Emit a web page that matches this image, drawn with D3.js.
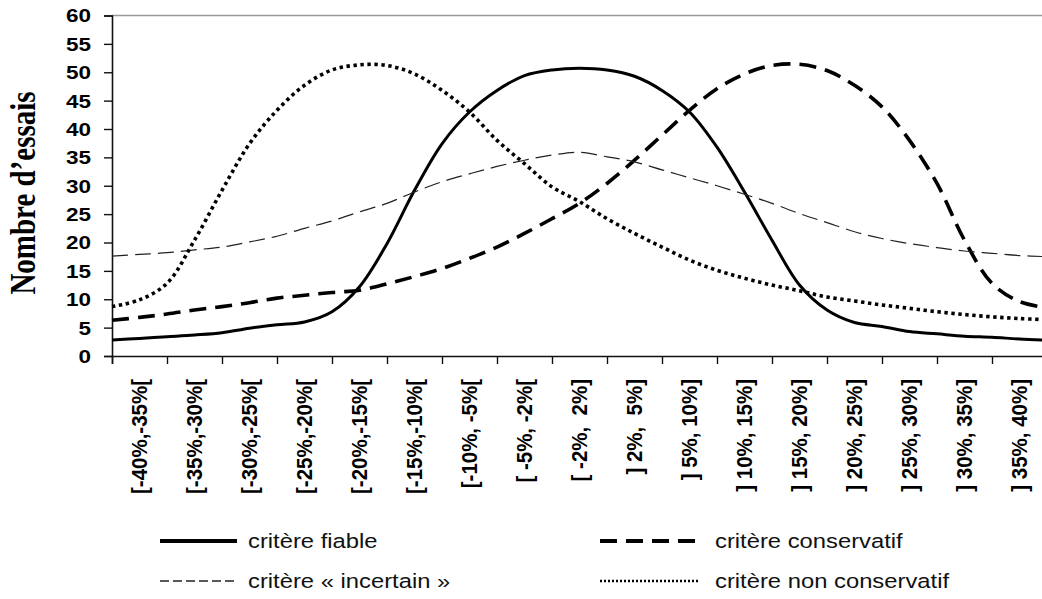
<!DOCTYPE html>
<html>
<head>
<meta charset="utf-8">
<script src="https://cdn.jsdelivr.net/npm/d3@7"></script>
<style>
  html, body { margin: 0; padding: 0; background: #fff; }
  svg { display: block; }
</style>
</head>
<body>
<svg id="chart" width="1042" height="599"></svg>
<script>
// ---- Data ----
const categories = [
  "[-40%,-35%[", "[-35%,-30%[", "[-30%,-25%[", "[-25%,-20%[", "[-20%,-15%[",
  "[-15%,-10%[", "[-10%, -5%[", "[ -5%, -2%[", "[ -2%,  2%]", "] 2%,  5%]",
  "] 5%, 10%]", "] 10%, 15%]", "] 15%, 20%]", "] 20%, 25%]", "] 25%, 30%]",
  "] 30%, 35%]", "] 35%, 40%]"
];
const yTicks = [0, 5, 10, 15, 20, 25, 30, 35, 40, 45, 50, 55, 60];
// values read every half category, from the left axis to the right edge
const fiable = [2.8, 3.1, 3.4, 3.7, 4.1, 4.9, 5.5, 6.0, 7.8, 12.2, 19.8, 29.2, 37.4, 43.0, 46.8, 49.4, 50.4,
  50.7, 50.4, 49.3, 46.8, 43.0, 36.8, 28.9, 20.4, 12.5, 8.1, 5.9, 5.2, 4.3, 3.9, 3.5, 3.3, 3.0, 2.8];
const conservatif = [6.3, 6.8, 7.4, 8.1, 8.7, 9.4, 10.2, 10.7, 11.2, 11.6, 12.7, 14.0, 15.4, 17.2, 19.2, 21.6, 24.2,
  26.9, 30.4, 34.5, 38.9, 43.3, 47.1, 49.7, 51.2, 51.4, 50.3, 47.7, 43.9, 38.0, 30.4, 20.4, 12.8, 9.6, 8.5];
const incertain = [17.6, 17.9, 18.2, 18.7, 19.2, 20.1, 21.1, 22.5, 23.8, 25.4, 26.9, 28.9, 30.7, 32.1, 33.4, 34.5, 35.4,
  35.9, 35.1, 34.2, 32.8, 31.4, 30.0, 28.5, 26.9, 25.1, 23.5, 21.9, 20.7, 19.8, 19.1, 18.5, 18.1, 17.7, 17.5];
const nonConservatif = [8.7, 9.9, 12.8, 20.4, 29.2, 37.4, 43.3, 47.7, 50.4, 51.3, 51.2, 49.7, 46.8, 43.0, 38.0, 33.9, 29.8,
  27.2, 24.2, 21.6, 19.2, 16.9, 15.1, 13.7, 12.5, 11.5, 10.4, 9.7, 9.0, 8.4, 7.8, 7.3, 6.9, 6.6, 6.4];
const seriesNames = ["critère fiable", "critère conservatif", "critère « incertain »", "critère non conservatif"];
const yTitle = "Nombre d’essais";

// ---- Layout ----
const svg = d3.select("#chart");
const mLeft = 112, mRight = 1047, mTop = 15.5, mBottom = 356;
const x = d3.scaleLinear().domain([0, categories.length]).range([mLeft, mRight]);
const y = d3.scaleLinear().domain([0, 60]).range([mBottom, mTop]);

const styles = [
  { data: fiable, width: 3, dash: null, color: "#000", lw: 3.8, ldash: null },
  { data: conservatif, width: 3.6, dash: "17,9", color: "#000", lw: 3.8, ldash: "17,9" },
  { data: incertain, width: 1.2, dash: "16,7", color: "#222", lw: 1.3, ldash: "9,4" },
  { data: nonConservatif, width: 3.6, dash: "3.4,3.6", color: "#000", lw: 2.6, ldash: "2,2" }
];

// top border line
svg.append("line").attr("x1", mLeft).attr("x2", 1042).attr("y1", y(60)).attr("y2", y(60))
  .attr("stroke", "#999").attr("stroke-width", 1.5);

// Y axis
const yAxis = d3.axisLeft(y).tickValues(yTicks).tickSize(8).tickPadding(0).tickFormat(d3.format("d"));
const gy = svg.append("g").attr("transform", `translate(${mLeft},0)`).call(yAxis);
gy.select(".domain").attr("stroke", "#111").attr("stroke-width", 1.6);
gy.selectAll(".tick line").attr("stroke", "#111").attr("stroke-width", 1.4);
gy.selectAll(".tick text").remove();
gy.selectAll(".tick").append("text")
  .attr("transform", "translate(-21,0) scale(1.25,1)")
  .attr("text-anchor", "end").attr("dy", "0.36em")
  .attr("font-family", "Liberation Sans, Arial, sans-serif").attr("font-weight", "bold")
  .attr("font-size", 18).attr("fill", "#000")
  .text(d => d);

// X axis
const xAxis = d3.axisBottom(x).tickValues(d3.range(0, categories.length + 1)).tickSize(8).tickFormat("");
const gx = svg.append("g").attr("transform", `translate(0,${mBottom})`).call(xAxis);
gx.select(".domain").attr("stroke", "#111").attr("stroke-width", 1.6);
gx.selectAll(".tick line").attr("stroke", "#111").attr("stroke-width", 1.4);

svg.append("g").selectAll("text").data(categories).join("text")
  .attr("transform", (d, i) => `translate(${x(i + 0.5) + 7},379) scale(1.1,1) rotate(-90)`)
  .attr("text-anchor", "end")
  .attr("font-family", "Liberation Sans, Arial, sans-serif").attr("font-weight", "bold")
  .attr("font-size", 20.5).attr("fill", "#000")
  .style("white-space", "pre")
  .text(d => d);

// Y title
svg.append("text")
  .attr("transform", "translate(35,193) scale(1.2,1) rotate(-90)")
  .attr("text-anchor", "middle")
  .attr("font-family", "Liberation Serif, Times New Roman, serif").attr("font-weight", "bold")
  .attr("font-size", 29).attr("fill", "#000")
  .text(yTitle);

// Lines
const line = d3.line().x((d, i) => x(i * 0.5)).y(d => y(d)).curve(d3.curveCatmullRom.alpha(0.5));
svg.append("g").selectAll("path").data(styles).join("path")
  .attr("d", s => line(s.data))
  .attr("fill", "none")
  .attr("stroke", s => s.color)
  .attr("stroke-width", s => s.width)
  .attr("stroke-dasharray", s => s.dash);

// Legend
const legendPos = [
  { x1: 160, x2: 237, tx: 248, y: 541 },
  { x1: 600, x2: 700, tx: 715, y: 541 },
  { x1: 160, x2: 237, tx: 248, y: 581 },
  { x1: 600, x2: 700, tx: 715, y: 581 }
];
const lg = svg.append("g").selectAll("g").data(seriesNames).join("g");
lg.append("line")
  .attr("x1", (d, i) => legendPos[i].x1).attr("x2", (d, i) => legendPos[i].x2)
  .attr("y1", (d, i) => legendPos[i].y).attr("y2", (d, i) => legendPos[i].y)
  .attr("stroke", (d, i) => styles[i].color)
  .attr("stroke-width", (d, i) => styles[i].lw)
  .attr("stroke-dasharray", (d, i) => styles[i].ldash);
lg.append("text")
  .attr("transform", (d, i) => `translate(${legendPos[i].tx},${legendPos[i].y}) scale(1.22,1)`)
  .attr("dy", "0.36em")
  .attr("font-family", "Liberation Sans, Arial, sans-serif")
  .attr("font-size", 19.5).attr("fill", "#111")
  .text(d => d);
</script>
</body>
</html>
